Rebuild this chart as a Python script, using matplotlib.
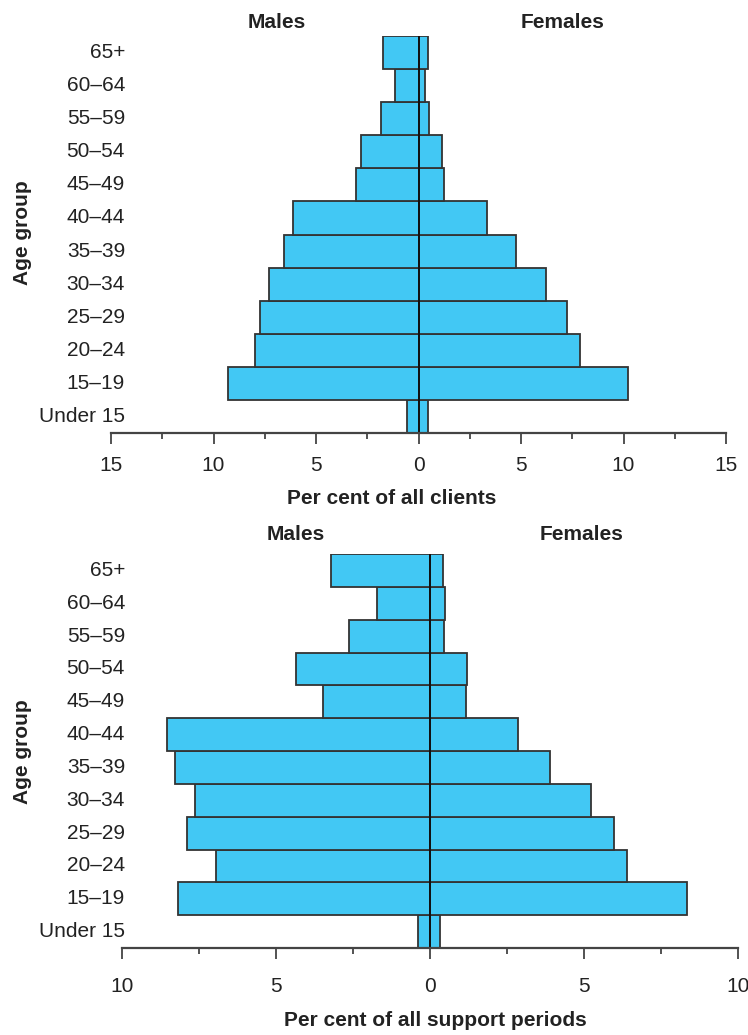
import matplotlib
matplotlib.use("Agg")
import matplotlib.pyplot as plt
import matplotlib.transforms as mtransforms
import numpy as np

plt.rcParams['font.family'] = ['Liberation Sans', 'DejaVu Sans']

# age groups from bottom to top
age_groups = ['Under 15', '15\u201319', '20\u201324', '25\u201329', '30\u201334', '35\u201339',
              '40\u201344', '45\u201349', '50\u201354', '55\u201359', '60\u201364', '65+']

# per cent of all clients
clients_males = [0.56, 9.28, 7.98, 7.74, 7.30, 6.58, 6.11, 3.03, 2.80, 1.84, 1.14, 1.73]
clients_females = [0.47, 10.22, 7.86, 7.23, 6.20, 4.74, 3.36, 1.24, 1.14, 0.51, 0.30, 0.47]

# per cent of all support periods
periods_males = [0.39, 8.18, 6.96, 7.89, 7.64, 8.28, 8.54, 3.47, 4.35, 2.63, 1.72, 3.21]
periods_females = [0.33, 8.36, 6.38, 5.98, 5.24, 3.90, 2.86, 1.16, 1.19, 0.47, 0.49, 0.42]

W, H = 748, 1035
bar_color = '#42C8F4'
edge_color = '#333333'
fs = 15

fig = plt.figure(figsize=(W / 100, H / 100), dpi=100)

def px(x, y):
    return x / W, 1 - y / H

def make_panel(rect, males, females, lim, xlabel, xlabel_x, xlabel_y, males_x, females_x, title_y, ylab_y, pad):
    ax = fig.add_axes(rect)
    y = np.arange(len(age_groups))
    ax.barh(y, -np.array(males), height=1.0, color=bar_color, edgecolor=edge_color, linewidth=1.3)
    ax.barh(y, females, height=1.0, color=bar_color, edgecolor=edge_color, linewidth=1.3)
    ax.plot([0, 0], [-0.5, len(age_groups) - 0.5], color='#111111', lw=1.4)
    ax.set_xlim(-lim, lim)
    ax.set_ylim(-0.5, len(age_groups) - 0.5)
    for s in ['top', 'right', 'left']:
        ax.spines[s].set_visible(False)
    ax.spines['bottom'].set_color('#444444')
    ax.spines['bottom'].set_linewidth(1.6)
    ax.set_yticks([])
    major = np.arange(-lim, lim + 0.1, 5)
    ax.set_xticks(major)
    ax.set_xticklabels([str(int(abs(v))) for v in major], fontsize=fs, color='#222222')
    ax.set_xticks(np.arange(-lim, lim + 0.1, 2.5), minor=True)
    ax.tick_params(axis='x', which='major', direction='out', length=8, width=1.3, colors='#444444', pad=pad,
                   labelcolor='#222222')
    ax.tick_params(axis='x', which='minor', direction='out', length=4, width=1.3, colors='#444444')

    trans = mtransforms.blended_transform_factory(fig.transFigure, ax.transData)
    for i, lab in enumerate(age_groups):
        ax.text(125 / W, i, lab, transform=trans, ha='right', va='center', fontsize=fs, color='#222222')

    fig.text(*px(males_x, title_y), 'Males', ha='center', va='center', fontsize=fs, fontweight='bold', color='#222222')
    fig.text(*px(females_x, title_y), 'Females', ha='center', va='center', fontsize=fs, fontweight='bold', color='#222222')
    fig.text(*px(xlabel_x, xlabel_y), xlabel, ha='center', va='center', fontsize=fs, fontweight='bold', color='#222222')
    fig.text(*px(23, ylab_y), 'Age group', ha='center', va='center', rotation=90, fontsize=fs,
             fontweight='bold', color='#222222')
    return ax

# top panel: clients
make_panel([111 / W, 1 - 433 / H, (726 - 111) / W, (433 - 36) / H],
           clients_males, clients_females, 15, 'Per cent of all clients',
           392, 499, 277, 563, 23, 233, 8.5)

# bottom panel: support periods
make_panel([122 / W, 1 - 948 / H, (738 - 122) / W, (948 - 554) / H],
           periods_males, periods_females, 10, 'Per cent of all support periods',
           435, 1020, 296, 582, 535, 752, 13)

fig.savefig('out.png', dpi=100)
